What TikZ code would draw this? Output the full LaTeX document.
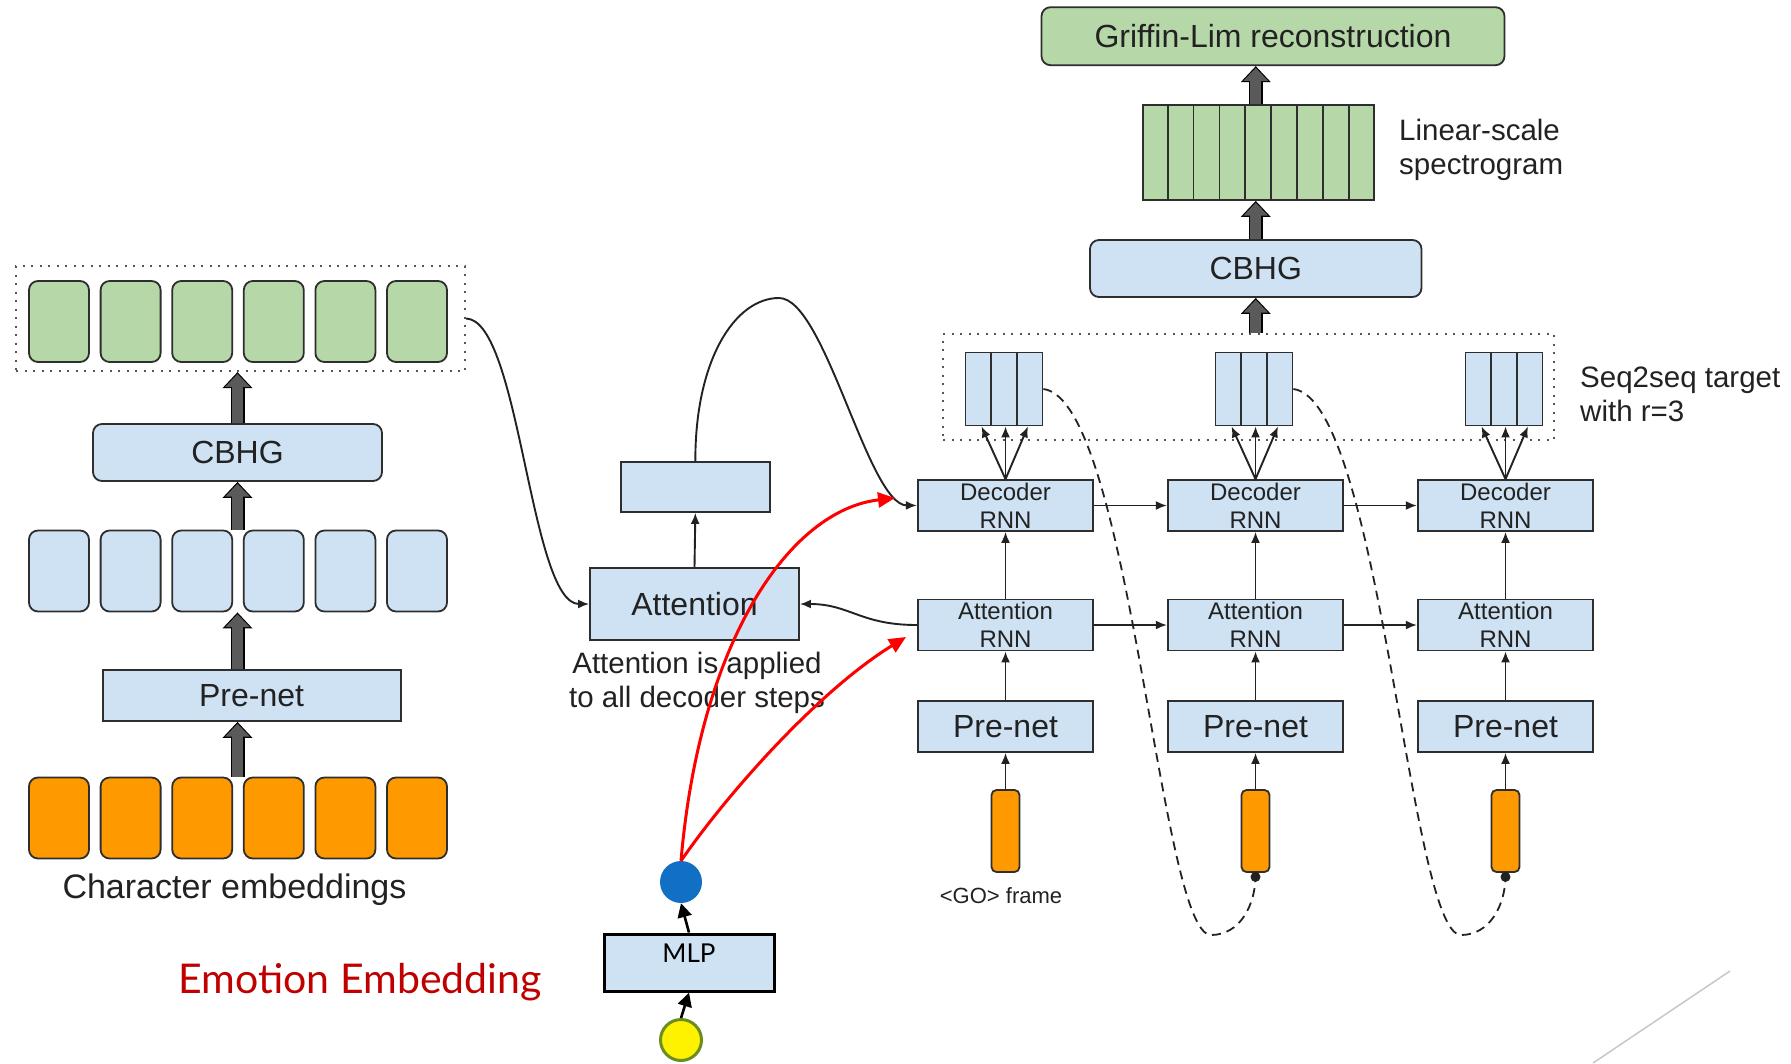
\documentclass[tikz,border=0pt]{standalone}
\usepackage{fontspec}
\setmainfont{Liberation Sans}
\newfontfamily\emofont{Lato}
\usetikzlibrary{arrows.meta,calc}

\definecolor{lgreen}{HTML}{B6D7A8}
\definecolor{lblue}{HTML}{CFE2F3}
\definecolor{orng}{HTML}{FF9900}
\definecolor{edge}{HTML}{2E2E2E}
\definecolor{agray}{HTML}{5A5A5A}
\definecolor{txt}{HTML}{222222}
\definecolor{embred}{HTML}{C00000}
\definecolor{embblue}{HTML}{1170C4}
\definecolor{olivec}{HTML}{6B8E23}
\definecolor{slashc}{HTML}{C8C8C8}
\definecolor{dotc}{HTML}{555555}

\tikzset{
  cell/.style={draw=edge, line width=1.8pt, rounded corners=9pt, inner sep=0pt,
               minimum width=60pt, minimum height=81pt},
  gcell/.style={cell, fill=lgreen},
  bcell/.style={cell, fill=lblue},
  ocell/.style={cell, fill=orng},
  lyr/.style={draw=edge, line width=1.8pt, fill=lblue, inner sep=0pt, text=txt,
              font=\fontsize{32}{38}\selectfont},
  rlyr/.style={lyr, rounded corners=9pt},
  rnn/.style={lyr, minimum width=175.5pt, minimum height=51pt,
              font=\fontsize{24}{28}\selectfont, align=center},
  dotframe/.style={draw=dotc, line width=2.2pt, dash pattern=on 2pt off 6.5pt, inner sep=0pt},
  bigarrow/.style={draw=black, line width=14pt, -{Triangle[width=29pt,length=16pt]},
                   postaction={draw=agray, line width=11pt,
                               -{Triangle[width=24pt,length=13pt]}, shorten >=1.8pt}},
  link/.style={draw=txt, line width=1.9pt, -{Latex[length=11pt,width=9pt]}},
  feedback/.style={draw=txt, line width=1.8pt, dash pattern=on 9pt off 6pt},
  redlink/.style={draw=red, line width=3pt, -{Triangle[length=17pt,width=15pt]}},
  blklink/.style={draw=black, line width=2.6pt, -{Triangle[length=14pt,width=14pt]}},
  txtlbl/.style={text=txt, inner sep=0pt},
}

\begin{document}
\begin{tikzpicture}[x=1pt,y=-1pt]
\fill[white] (0,0) rectangle (1791,1063);
\useasboundingbox (0,0) rectangle (1791,1063);

% ---------------- encoder (left) ----------------
\node[dotframe, minimum width=449pt, minimum height=105pt] (encframe) at (240.5,318.5) {};
\foreach \i in {1,...,6} {
  \node[gcell] (g\i) at ({59+71.6*(\i-1)},321.5) {};
  \node[bcell] (b\i) at ({59+71.6*(\i-1)},571) {};
  \node[ocell] (o\i) at ({59+71.6*(\i-1)},818) {};
}
\node[rlyr, minimum width=289pt, minimum height=57pt] (cbhgL) at (237.5,452.5) {CBHG};
\node[lyr, minimum width=298pt, minimum height=51pt] (prenetL) at (251.6,695.5) {Pre-net};

\draw[bigarrow] (cbhgL.south |- o3.north) -- (cbhgL.south |- prenetL.south);
\draw[bigarrow] (cbhgL.south |- prenetL.north) -- (cbhgL.south |- b3.south);
\draw[bigarrow] (cbhgL.south |- b3.north) -- (cbhgL.south);
\draw[bigarrow] (cbhgL.north) -- (cbhgL.north |- encframe.south);

\node[txtlbl, font=\fontsize{34}{40}\selectfont, anchor=base] (charlbl) at (234.5,898) {Character embeddings};
\node[txtlbl, font=\emofont\fontsize{41}{48}\selectfont, text=embred, anchor=base] (emolbl) at (360,993) {Emotion Embedding};

% ---------------- attention (middle) ----------------
\node[lyr, minimum width=209pt, minimum height=72pt] (attn) at (694.5,604) {Attention};
\node[lyr, minimum width=149pt, minimum height=50pt] (ctx) at (695.35,487) {};
\node[txtlbl, font=\fontsize{29.5}{34}\selectfont, align=center, anchor=north] (note) at (697,652) {Attention is applied\\to all decoder steps};

\draw[link] (attn.north) -- (ctx.south);

% ---------------- emotion branch ----------------
\node[circle, fill=embblue, minimum size=42pt, inner sep=0pt] (emb) at (681,882) {};
\node[draw=black, line width=3pt, fill=lblue, minimum width=170pt, minimum height=57pt,
      inner sep=0pt, font=\emofont\fontsize{26}{30}\selectfont, text=black,
      text height=18.7pt, text depth=18.7pt] (mlp) at (689,962.5) {MLP};
\node[circle, fill=yellow, draw=olivec, line width=3pt, minimum size=41pt, inner sep=0pt] (inp) at (681,1040) {};

\draw[blklink] (inp.north) -- (mlp.south);
\draw[blklink] (mlp.north) -- (emb.south);

% ---------------- decoder (right) ----------------
\node[dotframe, minimum width=611pt, minimum height=106pt] (decframe) at (1248.5,387) {};
\foreach \c/\x in {1/1005.5,2/1255.5,3/1505.5} {
  \node[rnn] (dec\c) at (\x,505.5) {Decoder\\RNN};
  \node[rnn] (arnn\c) at (\x,625) {Attention\\RNN};
  \node[lyr, minimum width=175.5pt, minimum height=51pt] (pre\c) at (\x,726.5) {Pre-net};
  \node[draw=edge, line width=1.8pt, fill=orng, rounded corners=5pt, minimum width=28pt,
        minimum height=82pt, inner sep=0pt] (fr\c) at (\x,831) {};
  \node[lyr, minimum width=77pt, minimum height=73pt] (tg\c) at (\x-1.5,389) {};
  \foreach \k in {1,2}
    \draw[draw=edge, line width=1.8pt] ($(tg\c.south west)!\k/3!(tg\c.south east)$) -- ($(tg\c.north west)!\k/3!(tg\c.north east)$);
  \draw[link] (fr\c.north) -- (pre\c.south);
  \draw[link] (pre\c.north) -- (arnn\c.south);
  \draw[link] (arnn\c.north) -- (dec\c.south);
  \draw[link] (dec\c.north) -- ([xshift=-22.5pt]tg\c.south);
  \draw[link] (dec\c.north) -- ([xshift=1.5pt]tg\c.south);
  \draw[link] (dec\c.north) -- ([xshift=24pt]tg\c.south);
}
\draw[link] (dec1.east) -- (dec2.west);
\draw[link] (dec2.east) -- (dec3.west);
\draw[link] (arnn1.east) -- (arnn2.west);
\draw[link] (arnn2.east) -- (arnn3.west);

\node[txtlbl, font=\fontsize{22}{26}\selectfont, anchor=base] (golbl) at (1001,903) {<GO> frame};

\node[rlyr, minimum width=331.5pt, minimum height=57pt] (cbhgR) at (1255.75,268.5) {CBHG};
\node[draw=edge, line width=1.8pt, fill=lgreen, minimum width=231.4pt, minimum height=95pt,
      inner sep=0pt] (spec) at (1258.3,152.5) {};
\foreach \k in {1,...,8}
  \draw[draw=edge, line width=1.8pt] ($(spec.south west)!\k/9!(spec.south east)$) -- ($(spec.north west)!\k/9!(spec.north east)$);
\node[rlyr, fill=lgreen, minimum width=463pt, minimum height=58pt] (griffin) at (1273,36.2) {Griffin-Lim reconstruction};

\draw[bigarrow] (cbhgR.south |- decframe.north) -- (cbhgR.south);
\draw[bigarrow] (cbhgR.north) -- (cbhgR.north |- spec.south);
\draw[bigarrow] (cbhgR.north |- spec.north) -- (cbhgR.north |- griffin.south);

\node[txtlbl, font=\fontsize{29.5}{34}\selectfont, align=left, anchor=north west] (speclbl) at (1399,119) {Linear-scale\\spectrogram};
\node[txtlbl, font=\fontsize{29.5}{34}\selectfont, align=left, anchor=north west] (tglbl) at (1580,367) {Seq2seq target\\with r=3};

% ---------------- attention connections ----------------
\coordinate (peak) at (779,298);
\draw[link] (encframe.east) .. controls (520,320) and (530,604) .. (attn.west);
\draw[link] (ctx.north) .. controls (695,360) and (735,298) .. (peak)
            .. controls (825,298) and (868,505) .. (dec1.west);
\draw[link] (arnn1.west) .. controls (860,625) and (850,604) .. (attn.east);

% ---------------- output feedback loops ----------------
\coordinate (lp1) at (1211,935);
\coordinate (lp2) at (1461,935);
\coordinate (dot2) at ([yshift=-4pt]fr2.south);
\coordinate (dot3) at ([yshift=-4pt]fr3.south);
\draw[feedback] (tg1.east) .. controls (1130,400) and (1160,935) .. (lp1)
                .. controls (1240,935) and (1255,905) .. (dot2);
\draw[feedback] (tg2.east) .. controls (1380,400) and (1410,935) .. (lp2)
                .. controls (1490,935) and (1505,905) .. (dot3);
\fill[txt] (dot2) circle (5);
\fill[txt] (dot3) circle (5);

% ---------------- emotion conditioning ----------------
\coordinate (rt1) at (895,498);
\coordinate (rt2) at (906,637);
\draw[redlink] (emb.north) .. controls (700,640) and (790,510) .. (rt1);
\draw[redlink] (emb.north) .. controls (730,790) and (820,690) .. (rt2);

% slide corner stroke
\draw[slashc, line width=1.5pt] (1730,971) -- (1593,1063);
\end{tikzpicture}
\end{document}
